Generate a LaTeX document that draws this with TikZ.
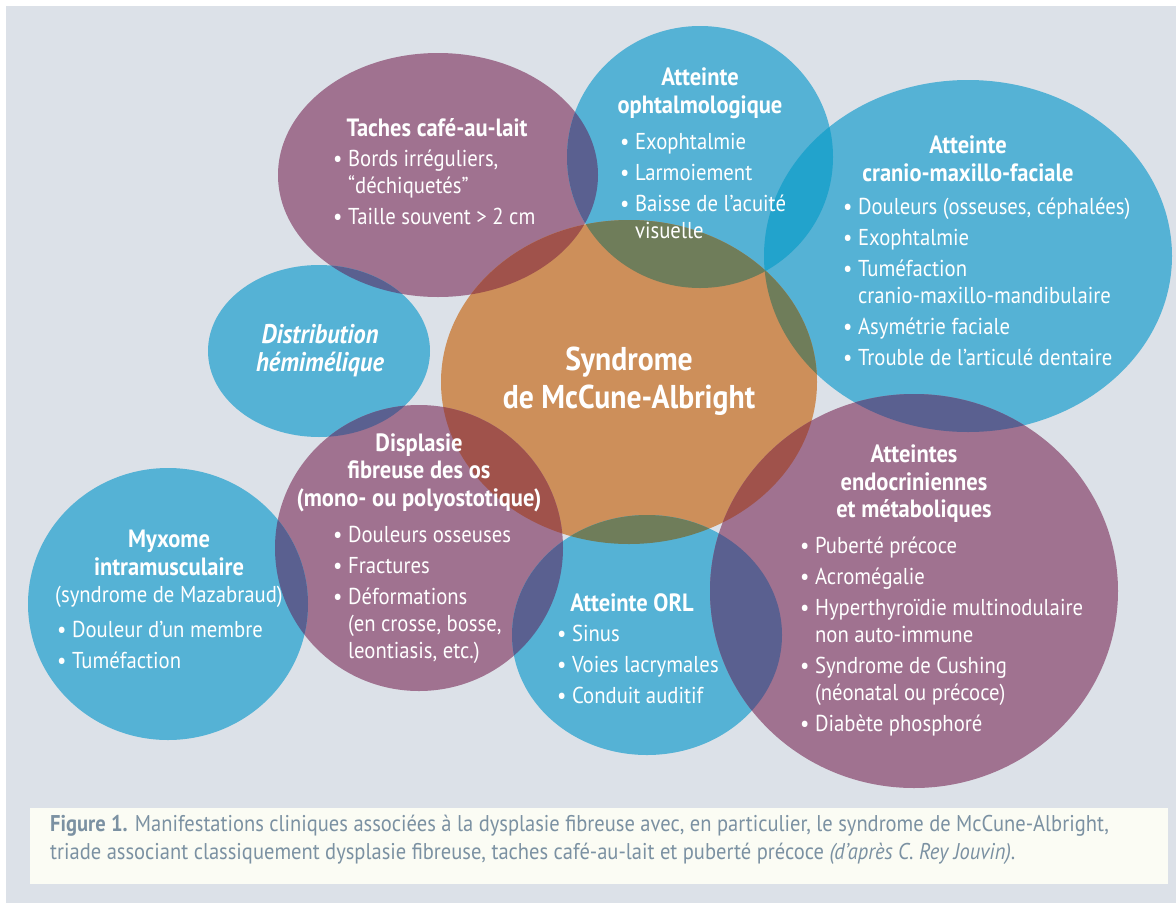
\documentclass[tikz,border=0pt]{standalone}
\usepackage{fontspec}
\setmainfont{PT Sans}[FakeStretch=0.9]
\usetikzlibrary{positioning}

\definecolor{bgGrey}{HTML}{DCE1E8}
\definecolor{bluC}{HTML}{55B2D5}
\definecolor{purC}{HTML}{A07290}
\definecolor{orgC}{HTML}{CD8F5A}
\definecolor{purBlu}{HTML}{5A6090}
\definecolor{orgPur}{HTML}{A0524B}
\definecolor{orgBlu}{HTML}{6F7D5A}
\definecolor{bluBlu}{HTML}{22A3CC}
\definecolor{capBox}{HTML}{FBFCF4}
\definecolor{capText}{HTML}{7B91A2}

\newcommand{\bul}{\textbullet\ }
\newcommand{\ind}{\hphantom{\textbullet\ }}

% the blobs
\def\tachesP{(438,175) ellipse [x radius=160pt, y radius=122pt]}
\def\ophtaP{(700,157) ellipse [x radius=133pt, y radius=131pt]}
\def\cranioP{(968,256) ellipse [x radius=204pt, y radius=176pt]}
\def\distribP{(319,351) ellipse [x radius=111pt, y radius=86pt]}
\def\syndP{(629,382) ellipse [x radius=188pt, y radius=162pt]}
\def\displP{(419,548) ellipse [x radius=144pt, y radius=143pt]}
\def\myxoP{(168,604) ellipse [x radius=140pt, y radius=136pt]}
\def\orlP{(647,635) ellipse [x radius=135pt, y radius=120pt]}
\def\endoP{(914,591) ellipse [x radius=204pt, y radius=197pt]}

\newcommand{\overlap}[3]{\begin{scope}\clip #1; \fill[#3] #2;\end{scope}}

\tikzset{
  head/.style={text=white, font=\bfseries\fontsize{25}{27.5}\selectfont, align=center, inner sep=0pt},
  items/.style={text=white, font=\fontsize{23}{27}\selectfont, align=left, anchor=north west, inner sep=0pt}
}

\begin{document}
\begin{tikzpicture}[x=1pt, y=-1pt]
    \useasboundingbox (0,0) rectangle (1176,903);
    \fill[white] (0,0) rectangle (1176,903);
    \fill[bgGrey] (6,6) rectangle (1176,903);

    \fill[purC] \tachesP;
    \fill[bluC] \ophtaP;
    \fill[bluC] \cranioP;
    \fill[bluC] \distribP;
    \fill[orgC] \syndP;
    \fill[purC] \displP;
    \fill[bluC] \myxoP;
    \fill[bluC] \orlP;
    \fill[purC] \endoP;

    % overlaps
    \overlap{\tachesP}{\ophtaP}{purBlu}
    \overlap{\tachesP}{\distribP}{purBlu}
    \overlap{\tachesP}{\syndP}{orgPur}
    \overlap{\ophtaP}{\syndP}{orgBlu}
    \overlap{\ophtaP}{\cranioP}{bluBlu}
    \overlap{\cranioP}{\syndP}{orgBlu}
    \overlap{\cranioP}{\endoP}{purBlu}
    \overlap{\syndP}{\endoP}{orgPur}
    \overlap{\syndP}{\displP}{orgPur}
    \overlap{\syndP}{\orlP}{orgBlu}
    \overlap{\distribP}{\displP}{purBlu}
    \overlap{\displP}{\myxoP}{purBlu}
    \overlap{\displP}{\orlP}{purBlu}
    \overlap{\orlP}{\endoP}{purBlu}

    \node (tachesT) [head] at (437,128) {Taches café-au-lait};
    \node (tachesL) [items] at (333,150) {\bul Bords irréguliers,\\ \ind “déchiquetés”\\[4pt] \bul Taille souvent > 2 cm};

    \node (ophtaT) [head] at (700,93.5) {Atteinte\\ophtalmologique};
    \node (ophtaL) [items] at (620,133) {\bul Exophtalmie\\[4pt] \bul Larmoiement\\[4pt] \bul Baisse de l’acuité\\ \ind visuelle};

    \node (cranioT) [head] at (968,159) {Atteinte\\cranio-maxillo-faciale};
    \node (cranioL) [items] at (843,198) {\bul Douleurs (osseuses, céphalées)\\[4pt] \bul Exophtalmie\\[4pt] \bul Tuméfaction\\ \ind cranio-maxillo-mandibulaire\\[4pt] \bul Asymétrie faciale\\[4pt] \bul Trouble de l’articulé dentaire};

    \node (distribT) [head, font=\bfseries\itshape\fontsize{27}{27.5}\selectfont] at (320,350.5) {Distribution\\hémimélique};

    \node (syndT) [head, font=\bfseries\fontsize{33}{38}\selectfont] at (629,381) {Syndrome\\de McCune-Albright};

    \node (displT) [head] at (419,472.5) {Displasie\\fibreuse des os\\(mono- ou polyostotique)};
    \node (displL) [items] at (333,526) {\bul Douleurs osseuses\\[4pt] \bul Fractures\\[4pt] \bul Déformations\\ \ind (en crosse, bosse,\\ \ind leontiasis, etc.)};

    \node (myxoT) [head] at (169,569) {Myxome\\intramusculaire\\{\mdseries\fontsize{23}{28}\selectfont(syndrome de Mazabraud)}};
    \node (myxoL) [items] at (57,621) {\bul Douleur d’un membre\\[4pt] \bul Tuméfaction};

    \node (orlT) [head] at (632,603) {Atteinte ORL};
    \node (orlL) [items] at (557,625) {\bul Sinus\\[4pt] \bul Voies lacrymales\\[4pt] \bul Conduit auditif};

    \node (endoT) [head] at (914,484) {Atteintes\\endocriniennes\\et métaboliques};
    \node (endoL) [items] at (800,537) {\bul Puberté précoce\\[4pt] \bul Acromégalie\\[4pt] \bul Hyperthyroïdie multinodulaire\\ \ind non auto-immune\\[4pt] \bul Syndrome de Cushing\\ \ind (néonatal ou précoce)\\[4pt] \bul Diabète phosphoré};

    % caption
    \fill[capBox] (30,808) rectangle (1168,884);
    \node (caption) [anchor=north west, inner sep=0pt, align=left, text=capText, font=\fontsize{22.8}{28}\selectfont] at (50,815) {\textbf{Figure 1.} Manifestations cliniques associées à la dysplasie fibreuse avec, en particulier, le syndrome de McCune-Albright,\\triade associant classiquement dysplasie fibreuse, taches café-au-lait et puberté précoce \textit{(d’après C. Rey Jouvin)}.};
\end{tikzpicture}
\end{document}
